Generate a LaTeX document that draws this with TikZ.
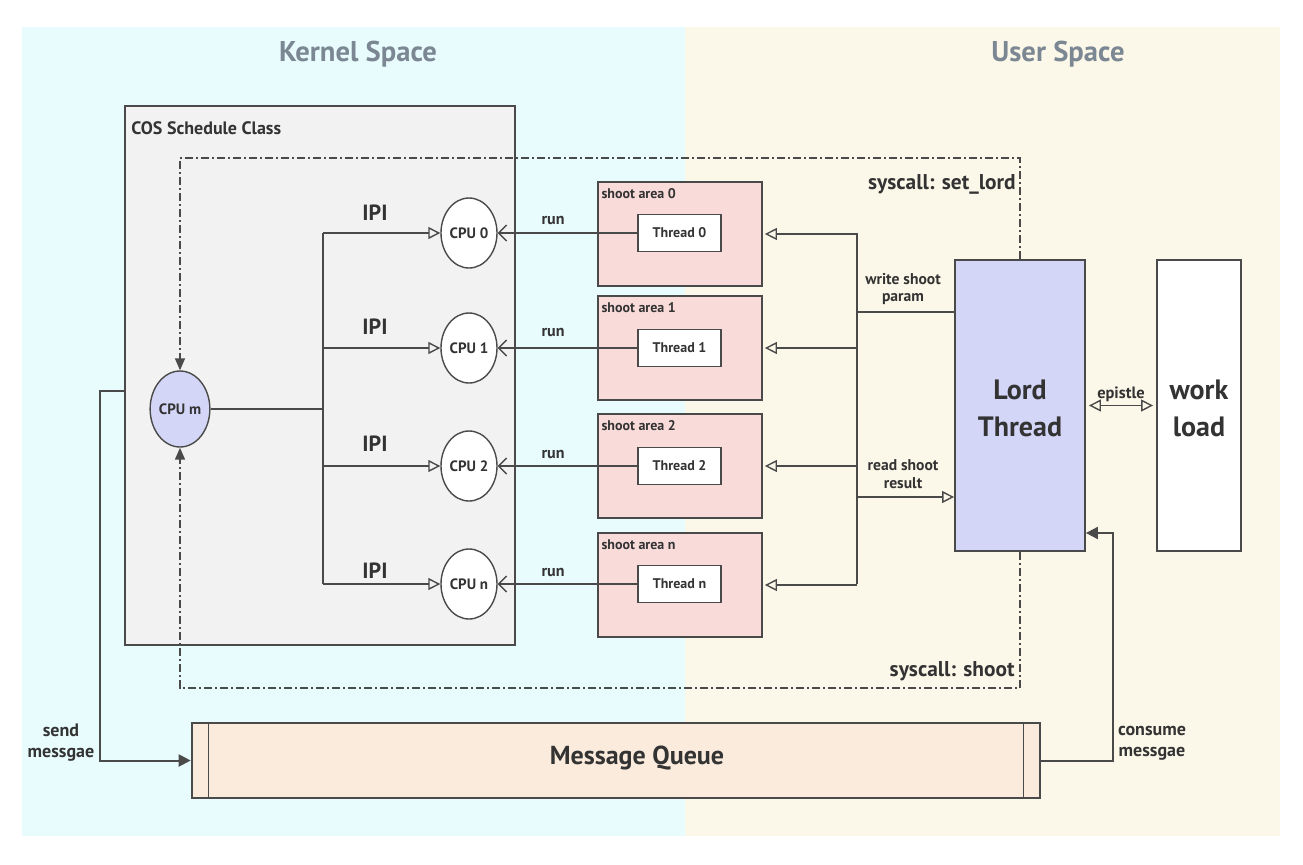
\documentclass[tikz,border=0pt]{standalone}
\usepackage{fontspec}
\setmainfont{PT Sans}
\usetikzlibrary{arrows.meta,shapes.geometric,calc}
\definecolor{kbg}{RGB}{232,252,253}
\definecolor{ubg}{RGB}{252,248,233}
\definecolor{cosfill}{RGB}{242,242,242}
\definecolor{safill}{RGB}{249,220,218}
\definecolor{lav}{RGB}{211,214,247}
\definecolor{mqfill}{RGB}{251,235,220}
\definecolor{ln}{RGB}{74,74,74}
\definecolor{txt}{RGB}{51,51,51}
\definecolor{ttl}{RGB}{123,135,147}
\tikzset{
  every node/.style={text=txt},
  box/.style={draw=ln, line width=0.9pt, rectangle, inner sep=0pt},
  cpunode/.style={draw=ln, line width=0.7pt, ellipse, fill=white, minimum width=28pt, minimum height=35pt, inner sep=0pt, font=\fontsize{7.5}{8}\selectfont\bfseries},
  sabox/.style={box, fill=safill, minimum width=82pt, minimum height=52pt},
  thbox/.style={box, fill=white, minimum width=41.5pt, minimum height=18.5pt, font=\fontsize{7}{8}\selectfont\bfseries},
  conn/.style={draw=ln, line width=0.7pt},
  tri/.style={conn, -{Triangle[open, length=6pt, width=6pt]}},
  barb/.style={conn, -{Straight Barb[length=4pt, width=8pt]}},
  ddash/.style={draw=ln, line width=0.8pt, dash pattern=on 4pt off 1.5pt on 1pt off 1.5pt, -{Triangle[length=6pt, width=5pt]}},
  fillarr/.style={draw=ln, line width=1pt, -{Triangle[length=6pt, width=6pt]}},
  small/.style={font=\fontsize{7.8}{8.8}\selectfont\bfseries},
  msglab/.style={align=center, font=\fontsize{9}{10.5}\selectfont\bfseries},
  ipi/.style={font=\fontsize{11}{12}\selectfont\bfseries},
  runlab/.style={font=\fontsize{8}{9}\selectfont\bfseries},
  title/.style={font=\fontsize{14.3}{16}\selectfont\bfseries, text=ttl},
  syslab/.style={anchor=east, font=\fontsize{10.7}{12}\selectfont\bfseries, inner sep=0pt},
}
\begin{document}
\begin{tikzpicture}[x=0.5pt,y=-0.5pt]
\useasboundingbox (0,0) rectangle (1303,864);
\fill[white] (0,0) rectangle (1303,864);
\fill[kbg] (22,27) rectangle (685,836);
\fill[ubg] (685,27) rectangle (1280,836);
\node[title] (kt) at (358,54) {Kernel Space};
\node[title] (ut) at (1058,54) {User Space};
% COS box
\node[box, fill=cosfill, minimum width=195pt, minimum height=269.5pt] (cos) at (320,375.5) {};
\node[anchor=west, font=\fontsize{9}{10}\selectfont\bfseries, inner sep=0pt] (cosl) at (131,128) {COS Schedule Class};
% CPUs
\node[cpunode, fill=lav, minimum width=29pt, minimum height=38pt] (cpum) at (180,409) {CPU m};
\node[cpunode] (cpu0) at (469,233) {CPU 0};
\node[cpunode] (cpu1) at (469,348) {CPU 1};
\node[cpunode] (cpu2) at (469,466) {CPU 2};
\node[cpunode] (cpun) at (469,584) {CPU n};
% shoot areas
\node[sabox] (sa0) at (680,234) {};
\node[sabox] (sa1) at (680,348) {};
\node[sabox] (sa2) at (680,466) {};
\node[sabox] (san) at (680,585) {};
\foreach \s/\t in {sa0/0,sa1/1,sa2/2,san/n}{
  \node[anchor=north west, font=\fontsize{7}{8}\selectfont\bfseries, inner sep=0pt] (\s l) at ([xshift=2pt,yshift=-3.5pt]\s.north west) {shoot area \t};
}
\node[thbox] (th0) at (679.5,233) {Thread 0};
\node[thbox] (th1) at (679.5,348) {Thread 1};
\node[thbox] (th2) at (679.5,466) {Thread 2};
\node[thbox] (thn) at (679.5,584) {Thread n};
% Lord and workload
\node[box, fill=lav, minimum width=65pt, minimum height=145.5pt] (lord) at (1020,405.5) {};
\node[align=center, font=\fontsize{14}{18.5}\selectfont\bfseries] (lordl) at (1020,408) {Lord\\Thread};
\node[box, fill=white, minimum width=42pt, minimum height=145.5pt] (work) at (1199,405.5) {};
\node[align=center, font=\fontsize{14}{18.5}\selectfont\bfseries] (workl) at (1199,408) {work\\load};
% message queue
\node[box, line width=1.3pt, fill=mqfill, minimum width=424pt, minimum height=37.5pt] (mq) at (616,760.5) {};
\node[font=\fontsize{13}{14}\selectfont\bfseries] (mql) at (637,758) {Message Queue};
\draw[ln, line width=0.7pt] ([xshift=9pt]mq.north west) -- ([xshift=9pt]mq.south west);
\draw[ln, line width=0.7pt] ([xshift=-9pt]mq.north east) -- ([xshift=-9pt]mq.south east);
% IPI bus
\coordinate (bus) at (323,409);
\coordinate (bt) at (323,233);
\coordinate (bb) at (323,584);
\draw[conn] (cpum.east) -- (cpum.east -| bus);
\draw[conn] (bt) -- (bb);
\foreach \c/\y in {cpu0/213,cpu1/327,cpu2/444,cpun/571}{
  \draw[tri] (bus |- \c.west) -- (\c.west);
  \node[ipi] at (375,\y) {IPI};
}
% run
\foreach \c/\t/\y in {cpu0/th0/220,cpu1/th1/332,cpu2/th2/454,cpun/thn/572}{
  \draw[barb] (\t.west) -- (\c.east);
  \node[runlab] at (553,\y) {run};
}
% write shoot param
\coordinate (wj) at (857,312);
\coordinate (wt) at (857,233);
\coordinate (wb) at (857,584);
\draw[conn] (lord.west |- wj) -- (wj);
\draw[conn] (wt) -- (wb);
\foreach \s in {sa0,sa1,sa2,san}{
  \draw[tri] (wj |- \s.east) -- ([xshift=1pt]\s.east);
}
\node[small, align=center] (wl) at (903,289) {write shoot\\param};
\coordinate (rj) at (857,497);
\draw[tri] (rj) -- (lord.west |- rj);
\node[small, align=center] (rl) at (903,474) {read shoot\\result};
% epistle
\draw[conn, {Triangle[open, length=6pt, width=6pt]}-{Triangle[open, length=6pt, width=6pt]}] ([xshift=1.5pt]lord.east) -- ([xshift=-1.5pt]work.west) node[midway, above, inner sep=1.5pt, font=\fontsize{8.2}{9}\selectfont\bfseries] (el) {epistle};
% syscalls
\coordinate (dtl) at (180,158);
\coordinate (dbl) at (180,688);
\draw[ddash] (lord.north) |- (dtl) -- (cpum.north);
\draw[ddash] (lord.south) |- (dbl) -- (cpum.south);
\node[syslab] (sl) at (1016,184) {syscall: set\_lord};
\node[syslab] (ss) at (1015,671) {syscall: shoot};
% send / consume
\coordinate (s1) at (100,391);
\draw[fillarr] (cos.west |- s1) -- (s1) |- (mq.west);
\node[msglab] (sml) at (61,743) {send\\messgae};
\coordinate (c1) at (1113,533);
\draw[fillarr] (mq.east) -| (c1) -- (lord.east |- c1);
\node[msglab] (cml) at (1152,743) {consume\\messgae};
\end{tikzpicture}
\end{document}
